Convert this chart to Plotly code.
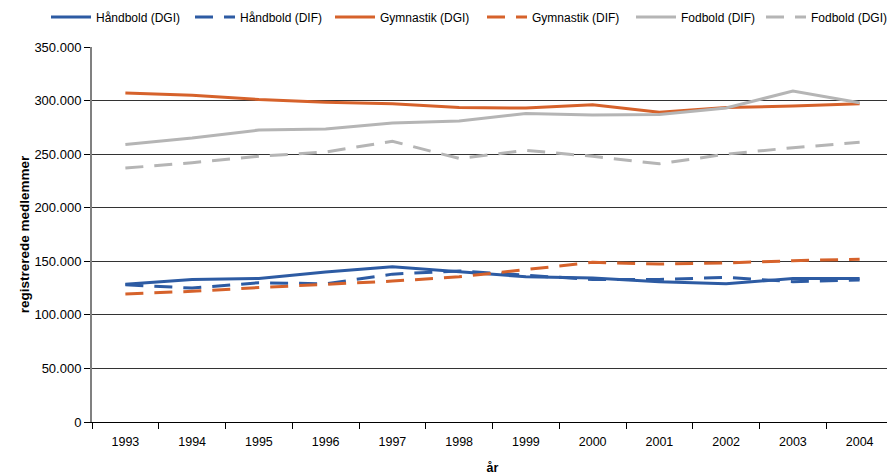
import plotly.graph_objects as go

years = ["1993", "1994", "1995", "1996", "1997", "1998", "1999", "2000", "2001", "2002", "2003", "2004"]

haandbold_dgi = [128500, 133000, 134000, 140000, 145000, 140000, 135500, 134500, 131000, 129000, 134000, 134000]
haandbold_dif = [128000, 125000, 130000, 129000, 138000, 141000, 137000, 133000, 133000, 135000, 131000, 132500]
gymnastik_dgi = [307000, 305000, 301000, 298500, 297000, 293500, 293000, 296000, 289000, 293500, 295000, 297000]
gymnastik_dif = [119500, 122000, 125500, 128500, 131500, 135500, 142500, 149000, 147500, 148500, 150500, 152000]
fodbold_dif = [259000, 265000, 272500, 273500, 279000, 281000, 288000, 286500, 287000, 293000, 309000, 298000]
fodbold_dgi = [237000, 242000, 248000, 252000, 262000, 246000, 253500, 248000, 241000, 250000, 256000, 261000]

BLUE = "#2D5BA3"
ORANGE = "#D6622B"
GRAY = "#B5B5B5"
DASH = "18px,11px"

series = [
    ("Håndbold (DGI)", haandbold_dgi, BLUE, "solid"),
    ("Håndbold (DIF)", haandbold_dif, BLUE, DASH),
    ("Gymnastik (DGI)", gymnastik_dgi, ORANGE, "solid"),
    ("Gymnastik (DIF)", gymnastik_dif, ORANGE, DASH),
    ("Fodbold (DIF)", fodbold_dif, GRAY, "solid"),
    ("Fodbold (DGI)", fodbold_dgi, GRAY, DASH),
]

# page is drawn with an 8px body margin, so the figure is sized to fit the window
W, H = 887, 468
legend_text_x = [98, 242, 382, 534, 683, 813]  # page x of each legend label

fig = go.Figure()
legend_names = ["legend", "legend2", "legend3", "legend4", "legend5", "legend6"]
for i, (name, vals, color, dash) in enumerate(series):
    fig.add_trace(go.Scatter(
        x=years, y=vals, name=name, mode="lines",
        line=dict(color=color, width=3, dash=dash),
        legend=legend_names[i],
    ))

FONT = "Liberation Sans, Arial, sans-serif"

legend_common = dict(
    orientation="h", xanchor="left", xref="container",
    y=1 - 9 / H, yanchor="middle", yref="container",
    font=dict(size=12), bgcolor="rgba(0,0,0,0)", itemwidth=40,
)
legend_layout = {}
for i, ln in enumerate(legend_names):
    legend_layout[ln] = dict(legend_common, x=(legend_text_x[i] - 8 - 52) / W)

fig.update_layout(
    width=W, height=H,
    margin=dict(l=84, r=2, t=39, b=54, autoexpand=False),
    paper_bgcolor="white", plot_bgcolor="white",
    separators=",.",
    font=dict(family=FONT, size=12, color="black"),
    showlegend=True,
    xaxis=dict(
        type="category", range=[-0.5, 11.5],
        tickson="boundaries", ticks="outside", ticklen=6, tickcolor="black",
        showline=True, linecolor="black", linewidth=1,
        showgrid=False, zeroline=False,
        tickfont=dict(size=12.5), ticklabelstandoff=8,
        title=dict(text="<b>år</b>", font=dict(size=12.5), standoff=15),
    ),
    yaxis=dict(
        range=[0, 350000], dtick=50000, tickformat=",.0f",
        ticks="outside", ticklen=6, tickcolor="black",
        showline=True, linecolor="#808080", linewidth=2,
        showgrid=True, gridcolor="#333333", gridwidth=1,
        zeroline=False,
        tickfont=dict(size=13), ticklabelstandoff=0,
        title=dict(text="<b>registrerede medlemmer</b>", font=dict(size=13.5), standoff=2),
    ),
    **legend_layout,
)

fig.write_html("out.html")
